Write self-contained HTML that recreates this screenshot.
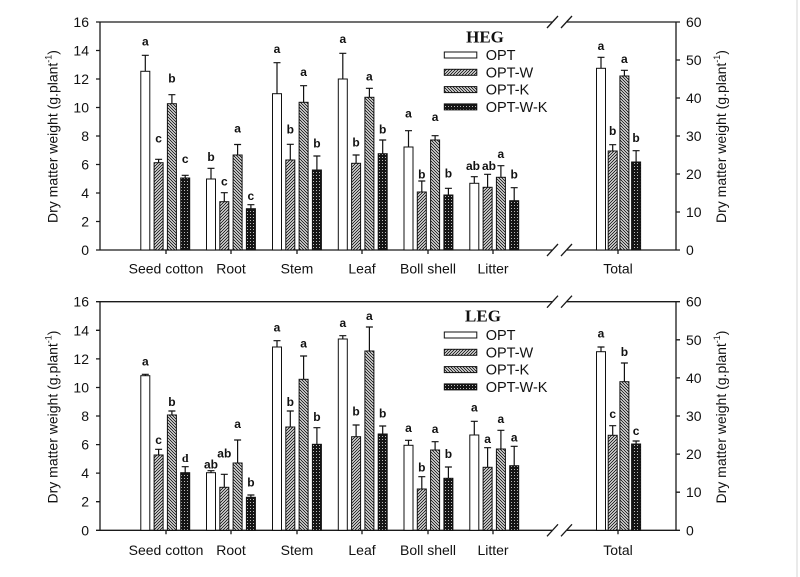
<!DOCTYPE html>
<html>
<head>
<meta charset="utf-8">
<style>
  html, body { margin: 0; padding: 0; background: #fff; }
  svg { display: block; }
  text { font-family: "Liberation Sans", Arial, sans-serif; fill: #111; }
  .tk { font-size: 14px; }
  .lb { font-size: 12px; font-weight: bold; text-anchor: middle; }
  .ax { stroke: #1a1a1a; stroke-width: 1.3; fill: none; }
  .eb { stroke: #111; stroke-width: 1.2; fill: none; }
  .bar { stroke: #111; stroke-width: 1; }
</style>
</head>
<body>
<svg width="800" height="577" viewBox="0 0 800 577" xmlns="http://www.w3.org/2000/svg">
  <defs>
    <pattern id="pw" patternUnits="userSpaceOnUse" width="3" height="3">
      <rect width="3" height="3" fill="#fff"/>
      <path d="M-1,1 l2,-2 M0,3 l3,-3 M2,4 l2,-2" stroke="#222" stroke-width="1.1"/>
    </pattern>
    <pattern id="pk" patternUnits="userSpaceOnUse" width="3" height="3">
      <rect width="3" height="3" fill="#fff"/>
      <path d="M-1,2 l2,2 M0,0 l3,3 M2,-1 l2,2" stroke="#222" stroke-width="1.1"/>
    </pattern>
    <pattern id="pwk" patternUnits="userSpaceOnUse" width="3" height="3">
      <rect width="3" height="3" fill="#151515"/>
      <rect x="1" y="1" width="1" height="1" fill="#bbb"/>
    </pattern>
  </defs>

  <rect width="800" height="577" fill="#fff"/>
  <line x1="797" y1="0" x2="797" y2="577" stroke="#d4d4d4" stroke-width="1"/>

  <!-- ================= TOP PANEL ================= -->
  <g>
    <path class="ax" d="M100,22 V250 M100,22 H552 M567,22 H676 M100,250 H552 M567,250 H676 M676,22 V250"/>
    <path class="ax" d="M547,28 L558,16 M561,28 L572,16 M547,256 L558,244 M561,256 L572,244"/>
    <path class="ax" d="M96,250 H100 M96,221.5 H100 M96,193 H100 M96,164.5 H100 M96,136 H100 M96,107.5 H100 M96,79 H100 M96,50.5 H100 M96,22 H100"/>
    <path class="ax" d="M676,250 H680 M676,212 H680 M676,174 H680 M676,136 H680 M676,98 H680 M676,60 H680 M676,22 H680"/>
    <path class="ax" d="M166,250 V254 M231,250 V254 M297,250 V254 M362,250 V254 M428,250 V254 M493,250 V254 M618,250 V254"/>

    <g class="tk" text-anchor="end">
      <text x="89" y="255">0</text>
      <text x="89" y="226.5">2</text>
      <text x="89" y="198">4</text>
      <text x="89" y="169.5">6</text>
      <text x="89" y="141">8</text>
      <text x="89" y="112.5">10</text>
      <text x="89" y="84">12</text>
      <text x="89" y="55.5">14</text>
      <text x="89" y="27">16</text>
    </g>
    <g class="tk" text-anchor="start">
      <text x="686" y="255">0</text>
      <text x="686" y="217">10</text>
      <text x="686" y="179">20</text>
      <text x="686" y="141">30</text>
      <text x="686" y="103">40</text>
      <text x="686" y="65">50</text>
      <text x="686" y="27">60</text>
    </g>
    <g class="tk" text-anchor="middle">
      <text x="166" y="273.5">Seed cotton</text>
      <text x="231" y="273.5">Root</text>
      <text x="297" y="273.5">Stem</text>
      <text x="362" y="273.5">Leaf</text>
      <text x="428" y="273.5">Boll shell</text>
      <text x="493" y="273.5">Litter</text>
      <text x="618" y="273.5">Total</text>
    </g>
    <text class="tk" transform="translate(57.5,136.5) rotate(-90)" text-anchor="middle">Dry matter weight (g.plant<tspan font-size="9" dy="-6">-1</tspan><tspan dy="6">)</tspan></text>
    <text class="tk" transform="translate(726,136.5) rotate(-90)" text-anchor="middle">Dry matter weight (g.plant<tspan font-size="9" dy="-6">-1</tspan><tspan dy="6">)</tspan></text>

    <text x="485" y="42.7" text-anchor="middle" style="font-family:'Liberation Serif',serif;font-weight:bold;font-size:17px">HEG</text>
    <rect class="bar" x="444.3" y="52" width="32.5" height="6" fill="#fff"/>
    <rect class="bar" x="444.3" y="69.3" width="32.5" height="6" fill="url(#pw)"/>
    <rect class="bar" x="444.3" y="86.6" width="32.5" height="6" fill="url(#pk)"/>
    <rect class="bar" x="444.3" y="103.9" width="32.5" height="6" fill="url(#pwk)"/>
    <g style="font-size:14.5px">
      <text x="485.7" y="60">OPT</text>
      <text x="485.7" y="77.3">OPT-W</text>
      <text x="485.7" y="94.6">OPT-K</text>
      <text x="485.7" y="111.9">OPT-W-K</text>
    </g>

    <rect class="bar" x="140.8" y="71.3" width="9" height="178.7" fill="#fff"/>
    <rect class="bar" x="154.1" y="162.7" width="9" height="87.3" fill="url(#pw)"/>
    <rect class="bar" x="167.4" y="103.7" width="9" height="146.3" fill="url(#pk)"/>
    <rect class="bar" x="180.7" y="178" width="9" height="72" fill="url(#pwk)"/>
    <rect class="bar" x="206.5" y="179" width="9" height="71" fill="#fff"/>
    <rect class="bar" x="219.8" y="201.7" width="9" height="48.3" fill="url(#pw)"/>
    <rect class="bar" x="233.1" y="155" width="9" height="95" fill="url(#pk)"/>
    <rect class="bar" x="246.4" y="208.7" width="9" height="41.3" fill="url(#pwk)"/>
    <rect class="bar" x="272.5" y="93.7" width="9" height="156.3" fill="#fff"/>
    <rect class="bar" x="285.8" y="160" width="9" height="90" fill="url(#pw)"/>
    <rect class="bar" x="299.1" y="102.3" width="9" height="147.7" fill="url(#pk)"/>
    <rect class="bar" x="312.4" y="170" width="9" height="80" fill="url(#pwk)"/>
    <rect class="bar" x="338.3" y="79" width="9" height="171" fill="#fff"/>
    <rect class="bar" x="351.6" y="163.3" width="9" height="86.7" fill="url(#pw)"/>
    <rect class="bar" x="364.9" y="97.3" width="9" height="152.7" fill="url(#pk)"/>
    <rect class="bar" x="378.2" y="153.7" width="9" height="96.3" fill="url(#pwk)"/>
    <rect class="bar" x="404" y="147" width="9" height="103" fill="#fff"/>
    <rect class="bar" x="417.3" y="192" width="9" height="58" fill="url(#pw)"/>
    <rect class="bar" x="430.6" y="140" width="9" height="110" fill="url(#pk)"/>
    <rect class="bar" x="443.9" y="195" width="9" height="55" fill="url(#pwk)"/>
    <rect class="bar" x="469.8" y="183.3" width="9" height="66.7" fill="#fff"/>
    <rect class="bar" x="483.1" y="187.3" width="9" height="62.7" fill="url(#pw)"/>
    <rect class="bar" x="496.4" y="177.3" width="9" height="72.7" fill="url(#pk)"/>
    <rect class="bar" x="509.7" y="200.7" width="9" height="49.3" fill="url(#pwk)"/>
    <rect class="bar" x="596.5" y="68.3" width="9" height="181.7" fill="#fff"/>
    <rect class="bar" x="608.2" y="151" width="9" height="99" fill="url(#pw)"/>
    <rect class="bar" x="619.9" y="76" width="9" height="174" fill="url(#pk)"/>
    <rect class="bar" x="631.6" y="162" width="9" height="88" fill="url(#pwk)"/>

    <path class="eb" d="
      M145.3,71.3 V55.3 M141.8,55.3 H148.8
      M158.6,162.7 V159.3 M155.1,159.3 H162.1
      M171.9,103.7 V94.7 M168.4,94.7 H175.4
      M185.2,178 V175.3 M181.7,175.3 H188.7
      M211,179 V168.3 M207.5,168.3 H214.5
      M224.3,201.7 V192.7 M220.8,192.7 H227.8
      M237.6,155 V144.5 M234.1,144.5 H241.1
      M250.9,208.7 V204.7 M247.4,204.7 H254.4
      M277,93.7 V62.7 M273.5,62.7 H280.5
      M290.3,160 V144.3 M286.8,144.3 H293.8
      M303.6,102.3 V85.7 M300.1,85.7 H307.1
      M316.9,170 V156 M313.4,156 H320.4
      M342.8,79 V53.3 M339.3,53.3 H346.3
      M356.1,163.3 V155 M352.6,155 H359.6
      M369.4,97.3 V88.3 M365.9,88.3 H372.9
      M382.7,153.7 V140 M379.2,140 H386.2
      M408.5,147 V130.7 M405,130.7 H412
      M421.8,192 V181 M418.3,181 H425.3
      M435.1,140 V135.7 M431.6,135.7 H438.6
      M448.4,195 V188.3 M444.9,188.3 H451.9
      M474.3,183.3 V176.7 M470.8,176.7 H477.8
      M487.6,187.3 V174.3 M484.1,174.3 H491.1
      M500.9,177.3 V165.7 M497.4,165.7 H504.4
      M514.2,200.7 V187.7 M510.7,187.7 H517.7
      M601,68.3 V57.3 M597.5,57.3 H604.5
      M612.7,151 V144.7 M609.2,144.7 H616.2
      M624.4,76 V70.3 M620.9,70.3 H627.9
      M636.1,162 V150.7 M632.6,150.7 H639.6"/>

    <g class="lb">
      <text x="145.3" y="45.4">a</text>
      <text x="158.6" y="142.4">c</text>
      <text x="171.9" y="82.6">b</text>
      <text x="185.2" y="163.1">c</text>
      <text x="211" y="161">b</text>
      <text x="224.3" y="185.4">c</text>
      <text x="237.6" y="132.4">a</text>
      <text x="250.9" y="199.8">c</text>
      <text x="277" y="53.1">a</text>
      <text x="290.3" y="133.6">b</text>
      <text x="303.6" y="75.8">a</text>
      <text x="316.9" y="147.6">b</text>
      <text x="342.8" y="43.1">a</text>
      <text x="356.1" y="146.6">b</text>
      <text x="369.4" y="80.4">a</text>
      <text x="382.7" y="133.3">b</text>
      <text x="408.5" y="117.4">a</text>
      <text x="421.8" y="178.3">b</text>
      <text x="435.1" y="120.8">a</text>
      <text x="448.4" y="177.6">b</text>
      <text x="473" y="170">ab</text>
      <text x="489" y="170">ab</text>
      <text x="500.9" y="158.1">a</text>
      <text x="514.2" y="178.6">b</text>
      <text x="601" y="49.8">a</text>
      <text x="612.7" y="135">b</text>
      <text x="624.4" y="63.1">a</text>
      <text x="636.1" y="142">b</text>
    </g>
  </g>

  <!-- ================= BOTTOM PANEL ================= -->
  <g>
    <path class="ax" d="M100,301.7 V530.3 M100,301.7 H552 M567,301.7 H676 M100,530.3 H552 M567,530.3 H676 M676,301.7 V530.3"/>
    <path class="ax" d="M547,307.7 L558,295.7 M561,307.7 L572,295.7 M547,536.3 L558,524.3 M561,536.3 L572,524.3"/>
    <path class="ax" d="M96,530.3 H100 M96,501.7 H100 M96,473.1 H100 M96,444.6 H100 M96,416 H100 M96,387.5 H100 M96,358.9 H100 M96,330.3 H100 M96,301.7 H100"/>
    <path class="ax" d="M676,530.3 H680 M676,492.2 H680 M676,454.1 H680 M676,416 H680 M676,377.9 H680 M676,339.8 H680 M676,301.7 H680"/>
    <path class="ax" d="M166,530.3 V534.3 M231,530.3 V534.3 M297,530.3 V534.3 M362,530.3 V534.3 M428,530.3 V534.3 M493,530.3 V534.3 M618,530.3 V534.3"/>

    <g class="tk" text-anchor="end">
      <text x="89" y="535.3">0</text>
      <text x="89" y="506.7">2</text>
      <text x="89" y="478.1">4</text>
      <text x="89" y="449.6">6</text>
      <text x="89" y="421">8</text>
      <text x="89" y="392.5">10</text>
      <text x="89" y="363.9">12</text>
      <text x="89" y="335.3">14</text>
      <text x="89" y="306.7">16</text>
    </g>
    <g class="tk" text-anchor="start">
      <text x="686" y="535.3">0</text>
      <text x="686" y="497.2">10</text>
      <text x="686" y="459.1">20</text>
      <text x="686" y="421">30</text>
      <text x="686" y="382.9">40</text>
      <text x="686" y="344.8">50</text>
      <text x="686" y="306.7">60</text>
    </g>
    <g class="tk" text-anchor="middle">
      <text x="166" y="555">Seed cotton</text>
      <text x="231" y="555">Root</text>
      <text x="297" y="555">Stem</text>
      <text x="362" y="555">Leaf</text>
      <text x="428" y="555">Boll shell</text>
      <text x="493" y="555">Litter</text>
      <text x="618" y="555">Total</text>
    </g>
    <text class="tk" transform="translate(57.5,417) rotate(-90)" text-anchor="middle">Dry matter weight (g.plant<tspan font-size="9" dy="-6">-1</tspan><tspan dy="6">)</tspan></text>
    <text class="tk" transform="translate(726,417) rotate(-90)" text-anchor="middle">Dry matter weight (g.plant<tspan font-size="9" dy="-6">-1</tspan><tspan dy="6">)</tspan></text>

    <text x="483" y="321.7" text-anchor="middle" style="font-family:'Liberation Serif',serif;font-weight:bold;font-size:17px">LEG</text>
    <rect class="bar" x="444.3" y="332" width="32.5" height="6" fill="#fff"/>
    <rect class="bar" x="444.3" y="349.3" width="32.5" height="6" fill="url(#pw)"/>
    <rect class="bar" x="444.3" y="366.6" width="32.5" height="6" fill="url(#pk)"/>
    <rect class="bar" x="444.3" y="383.9" width="32.5" height="6" fill="url(#pwk)"/>
    <g style="font-size:14.5px">
      <text x="485.7" y="340">OPT</text>
      <text x="485.7" y="357.3">OPT-W</text>
      <text x="485.7" y="374.6">OPT-K</text>
      <text x="485.7" y="391.9">OPT-W-K</text>
    </g>

    <rect class="bar" x="140.8" y="375.7" width="9" height="154.6" fill="#fff"/>
    <rect class="bar" x="154.1" y="455" width="9" height="75.3" fill="url(#pw)"/>
    <rect class="bar" x="167.4" y="415" width="9" height="115.3" fill="url(#pk)"/>
    <rect class="bar" x="180.7" y="472.7" width="9" height="57.6" fill="url(#pwk)"/>

    <rect class="bar" x="206.5" y="472.7" width="9" height="57.6" fill="#fff"/>
    <rect class="bar" x="219.8" y="487.3" width="9" height="43" fill="url(#pw)"/>
    <rect class="bar" x="233.1" y="463" width="9" height="67.3" fill="url(#pk)"/>
    <rect class="bar" x="246.4" y="497.3" width="9" height="33" fill="url(#pwk)"/>

    <rect class="bar" x="272.5" y="347" width="9" height="183.3" fill="#fff"/>
    <rect class="bar" x="285.8" y="427" width="9" height="103.3" fill="url(#pw)"/>
    <rect class="bar" x="299.1" y="379.3" width="9" height="151" fill="url(#pk)"/>
    <rect class="bar" x="312.4" y="444.3" width="9" height="86" fill="url(#pwk)"/>

    <rect class="bar" x="338.3" y="339" width="9" height="191.3" fill="#fff"/>
    <rect class="bar" x="351.6" y="436.7" width="9" height="93.6" fill="url(#pw)"/>
    <rect class="bar" x="364.9" y="351" width="9" height="179.3" fill="url(#pk)"/>
    <rect class="bar" x="378.2" y="434" width="9" height="96.3" fill="url(#pwk)"/>

    <rect class="bar" x="404" y="445.3" width="9" height="85" fill="#fff"/>
    <rect class="bar" x="417.3" y="489" width="9" height="41.3" fill="url(#pw)"/>
    <rect class="bar" x="430.6" y="450" width="9" height="80.3" fill="url(#pk)"/>
    <rect class="bar" x="443.9" y="478.3" width="9" height="52" fill="url(#pwk)"/>

    <rect class="bar" x="469.8" y="435" width="9" height="95.3" fill="#fff"/>
    <rect class="bar" x="483.1" y="467.3" width="9" height="63" fill="url(#pw)"/>
    <rect class="bar" x="496.4" y="449" width="9" height="81.3" fill="url(#pk)"/>
    <rect class="bar" x="509.7" y="465.7" width="9" height="64.6" fill="url(#pwk)"/>

    <rect class="bar" x="596.5" y="351.7" width="9" height="178.6" fill="#fff"/>
    <rect class="bar" x="608.2" y="435.3" width="9" height="95" fill="url(#pw)"/>
    <rect class="bar" x="619.9" y="381.7" width="9" height="148.6" fill="url(#pk)"/>
    <rect class="bar" x="631.6" y="444" width="9" height="86.3" fill="url(#pwk)"/>

    <path class="eb" d="
      M145.3,375.7 V374.3 M141.8,374.3 H148.8
      M158.6,455 V449.3 M155.1,449.3 H162.1
      M171.9,415 V411 M168.4,411 H175.4
      M185.2,472.7 V466.7 M181.7,466.7 H188.7
      M211,472.7 V470.7 M207.5,470.7 H214.5
      M224.3,487.3 V474.3 M220.8,474.3 H227.8
      M237.6,463 V440 M234.1,440 H241.1
      M250.9,497.3 V495 M247.4,495 H254.4
      M277,347 V340.7 M273.5,340.7 H280.5
      M290.3,427 V411 M286.8,411 H293.8
      M303.6,379.3 V356 M300.1,356 H307.1
      M316.9,444.3 V427.7 M313.4,427.7 H320.4
      M342.8,339 V335.7 M339.3,335.7 H346.3
      M356.1,436.7 V425 M352.6,425 H359.6
      M369.4,351 V327 M365.9,327 H372.9
      M382.7,434 V426 M379.2,426 H386.2
      M408.5,445.3 V440.3 M405,440.3 H412
      M421.8,489 V476.7 M418.3,476.7 H425.3
      M435.1,450 V441.7 M431.6,441.7 H438.6
      M448.4,478.3 V467 M444.9,467 H451.9
      M474.3,435 V421.3 M470.8,421.3 H477.8
      M487.6,467.3 V447.7 M484.1,447.7 H491.1
      M500.9,449 V430.3 M497.4,430.3 H504.4
      M514.2,465.7 V446.3 M510.7,446.3 H517.7
      M601,351.7 V347 M597.5,347 H604.5
      M612.7,435.3 V425.7 M609.2,425.7 H616.2
      M624.4,381.7 V363 M620.9,363 H627.9
      M636.1,444 V441 M632.6,441 H639.6"/>

    <g class="lb">
      <text x="145.3" y="365.4">a</text>
      <text x="158.6" y="444.1">c</text>
      <text x="171.9" y="406">b</text>
      <text x="185.2" y="462" style="font-family:'Liberation Serif',serif">d</text>
      <text x="211" y="468.3">ab</text>
      <text x="224.3" y="457.6">ab</text>
      <text x="237.6" y="428.1">a</text>
      <text x="250.9" y="486.6">b</text>
      <text x="277" y="331.4">a</text>
      <text x="290.3" y="406">b</text>
      <text x="303.6" y="347.4">a</text>
      <text x="316.9" y="421">b</text>
      <text x="342.8" y="327.1">a</text>
      <text x="356.1" y="415.3">b</text>
      <text x="369.4" y="319.8">a</text>
      <text x="382.7" y="417.6">b</text>
      <text x="408.5" y="432.1">a</text>
      <text x="421.8" y="471.6">b</text>
      <text x="435.1" y="433.1">a</text>
      <text x="448.4" y="458">b</text>
      <text x="474.3" y="411.4">a</text>
      <text x="487.6" y="443.1">a</text>
      <text x="500.9" y="423.1">a</text>
      <text x="514.2" y="441.4">a</text>
      <text x="601" y="337.4">a</text>
      <text x="612.7" y="418.1">c</text>
      <text x="624.4" y="356">b</text>
      <text x="636.1" y="434.8">c</text>
    </g>
  </g>
</svg>
</body>
</html>
